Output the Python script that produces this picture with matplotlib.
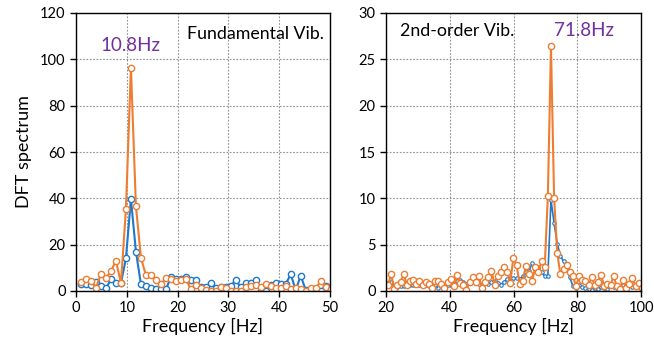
import numpy as np
import matplotlib
matplotlib.use("Agg")
import matplotlib.pyplot as plt

plt.rcParams['font.family'] = ['Lato', 'DejaVu Sans']

df_hz = 0.983  # frequency resolution

# ---- Fundamental vibration (left panel), bins k = 1..51 ----
fund_blue = [3.2, 3.2, 2.7, 4.0, 2.2, 1.1, 5.0, 3.3, 3.3, 14.1, 39.7, 17.0, 3.0, 2.2,
             1.4, 0.9, 0.9, 0.7, 5.9, 5.0, 5.0, 5.9, 4.7, 4.7, 1.9, 1.6, 3.6, 1.1,
             1.6, 1.6, 2.3, 4.7, 1.6, 3.3, 3.6, 4.7, 0.1, 0.2, 2.6, 3.6, 3.0, 3.0,
             7.2, 0.4, 6.6, 0.4, 0.4, 0.4, 0.1, 2.2, 0.4]
fund_orange = [4.0, 5.0, 4.4, 1.4, 7.5, 5.6, 8.5, 13.1, 3.3, 35.5, 96.4, 36.6, 14.4, 6.8,
               7.0, 4.7, 2.9, 5.5, 5.2, 4.3, 4.7, 5.2, 0.7, 2.6, 1.4, 0.4, 0.1, 0.1,
               1.7, 1.4, 0.1, 0.1, 0.1, 1.6, 2.2, 2.6, 1.6, 2.9, 2.2, 1.1, 1.4, 2.0,
               0.9, 1.4, 0.7, 0.1, 1.1, 1.1, 4.3, 1.6, 0.7]
fund_k = np.arange(1, len(fund_orange) + 1)

# ---- 2nd-order vibration (right panel), bins k = 19..102 ----
sec_orange = [1.8, 0.7, 0.7, 1.8, 0.2, 0.6, 1.0, 1.8, 0.7, 1.1, 1.2,
              0.8, 1.1, 0.7, 1.0, 0.8, 0.3, 1.1, 1.1, 0.8, 0.3,
              1.0, 1.3, 0.5, 1.7, 0.9, 0.6, 0.1, 1.0, 1.5, 1.0, 1.6,
              0.3, 1.0, 1.5, 2.2, 0.7, 1.6, 2.1, 2.6, 2.1, 0.9, 3.6,
              2.8, 0.8, 1.1, 2.7, 1.8, 1.1, 2.6, 2.0, 3.2, 2.6, 10.2,
              26.4, 10.0, 4.1, 1.8, 2.4, 2.8, 2.0, 1.6, 0.5, 1.6, 1.2,
              1.1, 0.6, 1.5, 0.6, 1.0, 1.7, 0.5, 0.8, 0.6, 1.6, 0.5,
              0.2, 1.2, 0.3, 0.8, 1.4, 0.5, 0.9, 0.3]
sec_blue = [1.5, 1.0, 0.9, 1.0, 0.3, 0.4, 0.5, 0.5, 0.6, 0.7, 0.7,
            0.6, 0.7, 0.7, 0.6, 0.5, 0.5, 0.6, 0.3, 0.6, 0.4,
            0.6, 0.8, 0.9, 1.1, 1.2, 1.0, 0.8, 1.0, 1.1, 0.9, 0.8,
            0.7, 0.9, 0.8, 1.0, 1.1, 0.9, 0.7, 1.0, 1.3, 1.4, 1.4,
            1.4, 1.3, 1.6, 2.0, 2.2, 3.0, 2.4, 2.6, 2.0, 1.6, 1.6,
            9.8, 7.3, 5.1, 3.8, 3.2, 2.5, 1.5, 0.5, 0.3, 0.6, 0.4,
            0.3, 0.2, 0.1, 0.3, 0.2, 0.4, 0.3, 0.2, 0.5, 0.4, 0.3,
            0.4, 0.6, 0.5, 0.6, 0.4, 0.6, 0.5, 0.4]
sec_k = np.arange(19, 19 + len(sec_orange))

blue = '#1F78C8'
orange = '#ED7D31'
purple = '#7030A0'

fig = plt.figure(figsize=(6.54, 3.5), dpi=100)
ax1 = fig.add_axes([76/654, 1-291/350, (330-76)/654, (291-13)/350])
ax2 = fig.add_axes([386/654, 1-291/350, (641-386)/654, (291-13)/350])

def style(ax):
    ax.grid(True, linestyle=(0, (1.5, 1.5)), color='#909090', linewidth=0.8)
    ax.set_axisbelow(True)
    for s in ax.spines.values():
        s.set_color('black')
        s.set_linewidth(1.0)
    ax.tick_params(direction='out', length=4, width=1, labelsize=10.5, colors='black')

# left
ax1.plot(fund_k * df_hz, fund_blue, '-o', color=blue, lw=1.5, ms=4.5,
         mfc='white', mec=blue, mew=1.0, clip_on=True)
ax1.plot(fund_k * df_hz, fund_orange, '-o', color=orange, lw=1.5, ms=4.5,
         mfc='white', mec=orange, mew=1.0, clip_on=True)
ax1.set_xlim(0, 50)
ax1.set_ylim(0, 120)
ax1.set_xticks([0, 10, 20, 30, 40, 50])
ax1.set_yticks([0, 20, 40, 60, 80, 100, 120])
style(ax1)
ax1.set_xlabel('Frequency [Hz]', fontsize=13, labelpad=2)
ax1.set_ylabel('DFT spectrum', fontsize=13, labelpad=6)
ax1.text(10.7, 106, '10.8Hz', color=purple, fontsize=13.5, ha='center', va='center')
ax1.text(48.8, 111, 'Fundamental Vib.', color='black', fontsize=12.8, ha='right', va='center')

# right
ax2.plot(sec_k * df_hz, sec_blue, '-o', color=blue, lw=1.2, ms=2.5,
         mfc='white', mec=blue, mew=0.8, clip_on=True)
ax2.plot(sec_k * df_hz, sec_orange, '-o', color=orange, lw=1.5, ms=4.5,
         mfc='white', mec=orange, mew=1.0, clip_on=True)
ax2.set_xlim(20, 100)
ax2.set_ylim(0, 30)
ax2.set_xticks([20, 40, 60, 80, 100])
ax2.set_yticks([0, 5, 10, 15, 20, 25, 30])
style(ax2)
ax2.set_xlabel('Frequency [Hz]', fontsize=13, labelpad=2)
ax2.text(24.5, 28.1, '2nd-order Vib.', color='black', fontsize=12.8, ha='left', va='center')
ax2.text(82, 28.1, '71.8Hz', color=purple, fontsize=13.5, ha='center', va='center')

fig.savefig('out.png', dpi=100)
